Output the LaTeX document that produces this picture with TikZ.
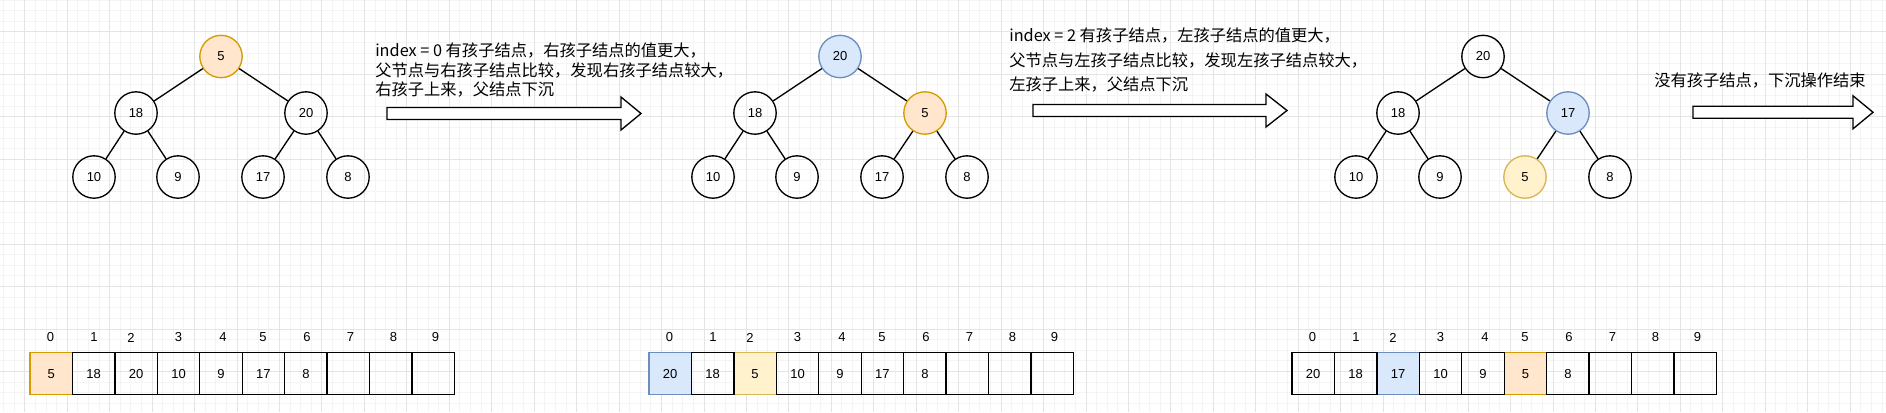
\documentclass[tikz,border=0pt]{standalone}
\usepackage{fontspec}
\setmainfont{Liberation Sans}
\newfontfamily\cjk{Noto Sans CJK SC}
\definecolor{orF}{HTML}{FFE6CC}
\definecolor{orD}{HTML}{D79B00}
\definecolor{yeF}{HTML}{FFF2CC}
\definecolor{yeD}{HTML}{D6B656}
\definecolor{blF}{HTML}{DAE8FC}
\definecolor{blD}{HTML}{6C8EBF}
\definecolor{gmin}{HTML}{F4F4F4}
\definecolor{gmaj}{HTML}{E4E4E4}
\begin{document}
\begin{tikzpicture}[x=0.75pt,y=-0.75pt,
  vnode/.style={circle,draw=black,line width=1pt,minimum size=31.8pt,inner sep=0pt,font=\fontsize{9.75}{11}\selectfont},
  cellbox/.style={rectangle,draw=black,line width=1pt,minimum size=31.8pt,inner sep=0pt,font=\fontsize{9.75}{11}\selectfont},
  idx/.style={inner sep=0pt,font=\fontsize{9.75}{11}\selectfont},
  orangehl/.style={fill=orF,draw=orD},
  yellowhl/.style={fill=yeF,draw=yeD},
  bluehl/.style={fill=blF,draw=blD},
  edge/.style={draw=black,line width=1pt},
  blockarrow/.style={draw=black,fill=white,line width=1pt,line join=miter},
  cjktext/.style={anchor=west,inner sep=0pt,font=\cjk\fontsize{12.2}{14}\selectfont},
  gridminor/.style={draw=gmin,line width=0.75pt},
  gridmajor/.style={draw=gmaj,line width=0.75pt}
]
\fill[white] (0,0) rectangle (1886,412);
\useasboundingbox (0,0) rectangle (1886,412);
% grid
\foreach \i in {-2,...,177} \draw[gridminor] ({24.8+10.6125*\i},0) -- ++(0,412);
\foreach \j in {-1,...,39} \draw[gridminor] (0,{-10.55+10.6125*\j}) -- ++(1886,0);
\foreach \i in {0,...,44} \draw[gridmajor] ({24.8+42.45*\i},0) -- ++(0,412);
\foreach \j in {0,...,10} \draw[gridmajor] (0,{-10.55+42.45*\j}) -- ++(1886,0);

% tree 1
\node[vnode,orangehl] (a0) at (221,56.5) {5};
\node[vnode] (a1) at (136,113) {18};
\node[vnode] (a2) at (306,113) {20};
\node[vnode] (a3) at (94,177) {10};
\node[vnode] (a4) at (178,177) {9};
\node[vnode] (a5) at (263,177) {17};
\node[vnode] (a6) at (348,177) {8};
\draw[edge] (a0)--(a1) (a0)--(a2) (a1)--(a3) (a1)--(a4) (a2)--(a5) (a2)--(a6);

% tree 2
\node[vnode,bluehl] (b0) at (840,56.5) {20};
\node[vnode] (b1) at (755,113) {18};
\node[vnode,orangehl] (b2) at (925,113) {5};
\node[vnode] (b3) at (713,177) {10};
\node[vnode] (b4) at (797,177) {9};
\node[vnode] (b5) at (882,177) {17};
\node[vnode] (b6) at (967,177) {8};
\draw[edge] (b0)--(b1) (b0)--(b2) (b1)--(b3) (b1)--(b4) (b2)--(b5) (b2)--(b6);

% tree 3
\node[vnode] (c0) at (1483,56.5) {20};
\node[vnode] (c1) at (1398,113) {18};
\node[vnode,bluehl] (c2) at (1568,113) {17};
\node[vnode] (c3) at (1356,177) {10};
\node[vnode] (c4) at (1440,177) {9};
\node[vnode,yellowhl] (c5) at (1525,177) {5};
\node[vnode] (c6) at (1610,177) {8};
\draw[edge] (c0)--(c1) (c0)--(c2) (c1)--(c3) (c1)--(c4) (c2)--(c5) (c2)--(c6);

% texts
\node[cjktext] (t1a) at (375,50) {index = 0 有孩子结点，右孩子结点的值更大，};
\node[cjktext] (t1b) at (375,70) {父节点与右孩子结点比较，发现右孩子结点较大，};
\node[cjktext] (t1c) at (375,89.5) {右孩子上来，父结点下沉};
\node[cjktext] (t2a) at (1009,35) {index = 2 有孩子结点，左孩子结点的值更大，};
\node[cjktext] (t2b) at (1009,60) {父节点与左孩子结点比较，发现左孩子结点较大，};
\node[cjktext] (t2c) at (1009,84.5) {左孩子上来，父结点下沉};
\node[cjktext] (t3) at (1654,80) {没有孩子结点，下沉操作结束};

% block arrows
\foreach \x/\b/\t/\y in {387/621/641/113.5, 1033/1266/1287/110.5, 1693/1853/1873/112.3}
  \draw[blockarrow] ({\x},{\y-6}) -- ({\b},{\y-6}) -- ({\b},{\y-16.5}) -- ({\t},{\y}) -- ({\b},{\y+16.5}) -- ({\b},{\y+6}) -- ({\x},{\y+6}) -- cycle;

% array 1
\node[cellbox,orangehl] (pa0) at (51.2,373.6) {5};
\foreach \k/\v in {1/18,2/20,3/10,4/9,5/17,6/8,7/{},8/{},9/{}}
  \node[cellbox] (pa\k) at ({51.2+42.45*\k},373.6) {\v};
% array 2
\node[cellbox,bluehl] (pb0) at (670.2,373.6) {20};
\node[cellbox,yellowhl] (pb2) at ({670.2+42.45*2},373.6) {5};
\foreach \k/\v in {1/18,3/10,4/9,5/17,6/8,7/{},8/{},9/{}}
  \node[cellbox] (pb\k) at ({670.2+42.45*\k},373.6) {\v};
% array 3
\node[cellbox,bluehl] (pc2) at ({1313.2+42.45*2},373.6) {17};
\node[cellbox,orangehl] (pc5) at ({1313.2+42.45*5},373.6) {5};
\foreach \k/\v in {0/20,1/18,3/10,4/9,6/8,7/{},8/{},9/{}}
  \node[cellbox] (pc\k) at ({1313.2+42.45*\k},373.6) {\v};

% index labels
\foreach \k/\dx in {0/20.5,1/64,2/101,3/148.5,4/193,5/233,6/277,7/320.5,8/363.5,9/405.5}{
  \node[idx] (ia\k) at ({30+\dx},337.5) {\k};
  \node[idx] (ib\k) at ({649+\dx},337.5) {\k};
  \node[idx] (ic\k) at ({1292+\dx},337.5) {\k};
}
\end{tikzpicture}
\end{document}
